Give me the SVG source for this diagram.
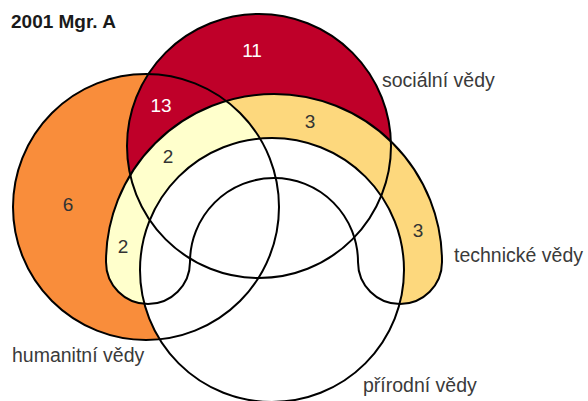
<svg xmlns="http://www.w3.org/2000/svg" xmlns:xlink="http://www.w3.org/1999/xlink" width="588" height="401" viewBox="0 0 588 401">
<style>
.outline{fill:none;stroke:#000;stroke-width:2}
.label{font-family:"Liberation Sans",Arial,sans-serif;font-size:19.5px;fill:#3a3a3a}
.num{font-family:"Liberation Sans",Arial,sans-serif;font-size:19px;fill:#333;text-anchor:middle}
.num.light{fill:#fff}
.title{font-family:"Liberation Sans",Arial,sans-serif;font-size:19px;font-weight:bold;fill:#1a1a1a}
</style>
<defs>
<circle id="c-hum" cx="146" cy="207" r="133"/>
<circle id="c-soc" cx="259" cy="146" r="132"/>
<circle id="c-pri" cx="272" cy="270" r="132"/>
<path id="p-tech" d="M106 262 A168 168 0 0 1 442 262 A42 42 0 0 1 358 262 A84 84 0 0 0 190 262 A42 42 0 0 1 106 262 Z"/>
<clipPath id="clip-hum"><circle cx="146" cy="207" r="133"/></clipPath>
</defs>
<rect width="588" height="401" fill="#fff"/>
<g id="regions">
<use xlink:href="#c-hum" href="#c-hum" fill="#F98D3B"/>
<use xlink:href="#c-soc" href="#c-soc" fill="#BF0029"/>
<use xlink:href="#p-tech" href="#p-tech" fill="#FDD87D"/>
<use xlink:href="#p-tech" href="#p-tech" fill="#FFFFCC" clip-path="url(#clip-hum)"/>
<use xlink:href="#c-pri" href="#c-pri" fill="#fff"/>
</g>
<g id="humanitni-vedy">
<use xlink:href="#c-hum" href="#c-hum" class="outline"/>
<text class="label" x="12" y="362">humanitní vědy</text>
</g>
<g id="socialni-vedy">
<use xlink:href="#c-soc" href="#c-soc" class="outline"/>
<text class="label" x="382" y="87">sociální vědy</text>
</g>
<g id="technicke-vedy">
<use xlink:href="#p-tech" href="#p-tech" class="outline"/>
<text class="label" x="454" y="262">technické vědy</text>
</g>
<g id="prirodni-vedy">
<use xlink:href="#c-pri" href="#c-pri" class="outline"/>
<text class="label" x="363" y="392">přírodní vědy</text>
</g>
<g id="counts">
<text class="num light" x="252" y="57">11</text>
<text class="num light" x="161" y="112">13</text>
<text class="num" x="168" y="163">2</text>
<text class="num" x="68" y="211">6</text>
<text class="num" x="123" y="253">2</text>
<text class="num" x="310" y="128">3</text>
<text class="num" x="418" y="237">3</text>
</g>
<text class="title" x="11" y="28">2001 Mgr. A</text>
</svg>
